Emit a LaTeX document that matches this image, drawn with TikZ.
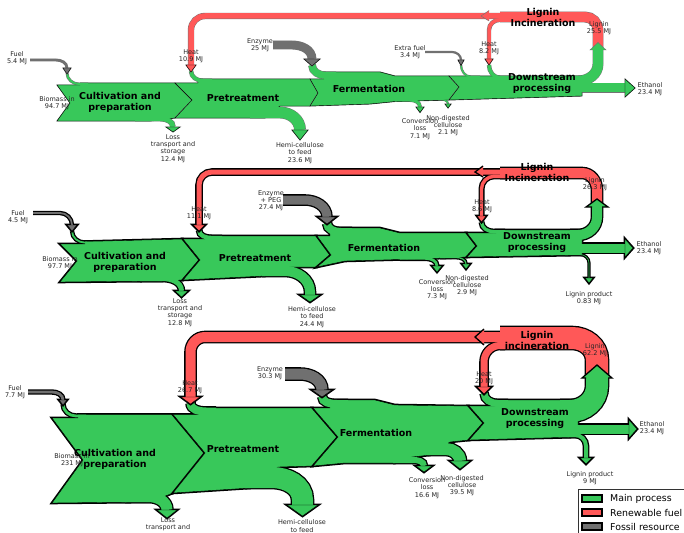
\documentclass[tikz,border=0pt]{standalone}
\usepackage{fontspec}
\setmainfont{DejaVu Sans}
\definecolor{mainc}{RGB}{56,200,90}
\definecolor{renewc}{RGB}{255,88,88}
\definecolor{fossilc}{RGB}{112,112,112}
\tikzset{
  flow/.code={\ifnum\pass=0 \tikzset{draw=\ec,line width={#1+2*\ew}}\else\tikzset{draw=\fc,line width=#1}\fi},
  blob/.code={\ifnum\pass=0 \tikzset{draw=\ec,fill=\ec,line width={2*\ew}}\else\tikzset{fill=\fc}\fi},
  rim/.style={draw=\ec,line width=\ew},
  lbl/.style={font=\fontsize{6.5}{7.2}\selectfont,align=center,inner sep=0pt,text=black!85},
  ttl/.style={font=\fontsize{9.5}{11}\selectfont\bfseries,align=center,inner sep=0pt},
  key/.style={font=\fontsize{9.4}{11}\selectfont,anchor=west,inner sep=0pt}
}
\newcommand\stage[2]{\def\fc{#1}\foreach \pass in {0,1}{#2}}
\begin{document}
\begin{tikzpicture}[x=1pt,y=-1pt]
\useasboundingbox (0,0) rectangle (684,532);
\fill[white] (0,0) rectangle (684,532);

% first case
\def\ec{black!55}\def\ew{0.45pt}
\stage{mainc}{
  \draw[blob] (57,85) -- (80,85) -- (80,83) -- (175,83) -- (192,100) -- (175,118) -- (150,121) -- (57,121) -- (70,103) -- cycle;
  \draw[flow=2] (67,73) to[out=-90,in=180] (79,84) -- (88,84);
  \draw[flow=4.8] (135,118.6) -- (160,118.6) to[out=0,in=90] (173,127);
  \draw[blob] (166,127) -- (173,132) -- (180,127) -- cycle;
}
\stage{mainc}{
  \draw[blob] (175,83) -- (198,83) -- (198,79) -- (310,79) -- (318,93) -- (310,106) -- (280,106) -- (265,118) -- (175,118) -- (192,100) -- cycle;
  \draw[flow=3.6] (191,71) to[out=-90,in=180] (203,80.8) -- (212,80.8);
  \draw[flow=11] (250,112.5) -- (280,112.5) to[out=0,in=90] (300,130);
  \draw[blob] (292,130) -- (300,140) -- (308,130) -- cycle;
}
\stage{mainc}{
  \draw[blob] (310,79) -- (324,79) -- (324,72) -- (380,72) -- (395,76) -- (449,76) -- (459,87) -- (449,100) -- (395,101.5) -- (370,104) -- (310,106) -- (318,93) -- cycle;
  \draw[flow=7] (312,65) to[out=-90,in=180] (326,75.5) -- (336,75.5);
  \draw[flow=3] (395,100) -- (410,100) to[out=0,in=90] (420,107);
  \draw[blob] (416,107) -- (420,112.5) -- (424,107) -- cycle;
  \draw[flow=1.2] (425,99.4) -- (440,99.4) to[out=0,in=90] (448,104);
  \draw[blob] (445,104) -- (448,108) -- (451,104) -- cycle;
}
\stage{mainc}{
  \draw[blob] (449,76) -- (582,76) -- (582,96) -- (449,100) -- (459,87) -- cycle;
  \draw[flow=1.4] (461,65) to[out=-90,in=180] (471,76.7) -- (480,76.7);
  \draw[flow=3.5] (489,65) to[out=-90,in=180] (500,77.75) -- (510,77.75);
  \draw[flow=10] (570,81) -- (578,81) to[out=0,in=-90] (598,64) -- (598,50);
  \draw[flow=9] (575,88) -- (625,88);
  \draw[blob] (625,79) -- (635,88) -- (625,97) -- cycle;
}
\stage{fossilc}{
  \draw[flow=2] (30,60) -- (56,60) to[out=0,in=90] (67,68);
  \draw[blob] (63,68) -- (67,74) -- (71,68) -- cycle;
  \draw[flow=8] (273,45) -- (292,45) to[out=0,in=90] (312,59);
  \draw[blob] (304,59) -- (312,66) -- (320,59) -- cycle;
  \draw[flow=1.3] (425,52) -- (452,52) to[out=0,in=90] (461,60);
  \draw[blob] (458,60) -- (461,65.5) -- (464,60) -- cycle;
}
\stage{renewc}{
  \draw[flow=10] (598,48) -- (598,30) to[out=90,in=0] (585,17) -- (500,17);
  \draw[flow=5.5] (505,16) -- (205,16) to[out=180,in=90] (191,30) -- (191,65);
  \draw[flow=3.5] (505,19.8) -- (500,19.8) to[out=180,in=90] (489,30) -- (489,59);
  \draw[blob] (186,65) -- (191,72) -- (196,65) -- cycle;
  \draw[blob] (485,59) -- (489,65) -- (493,59) -- cycle;
}
\fill[renewc] (489,10.5) -- (481,16) -- (489,21) -- cycle;
\draw[rim] (489,10.5) -- (481,16) -- (489,21);
\fill[mainc] (590,50) -- (598,42.5) -- (606,50) -- cycle;
\draw[rim] (593,50) -- (590,50) -- (598,42.5) -- (606,50) -- (603,50);

% second case
\def\ec{black}\def\ew{1.3pt}
\stage{mainc}{
  \draw[blob] (60,244) -- (85,244) -- (85,241.5) -- (183,239) -- (200,260) -- (183,280) -- (162,281) -- (60,282) -- (77,261) -- cycle;
  \draw[flow=1.8] (72,231) to[out=-90,in=180] (85,242.6) -- (95,242.6);
  \draw[flow=5] (140,278.5) -- (162,278.5) to[out=0,in=90] (181.5,291);
  \draw[blob] (175,291) -- (181.5,297) -- (188,291) -- cycle;
}
\stage{mainc}{
  \draw[blob] (183,239) -- (205,239) -- (205,236) -- (317,236) -- (331,255) -- (317,267) -- (290,267) -- (265,276) -- (183,280) -- (200,260) -- cycle;
  \draw[flow=4.3] (199,230) to[out=-90,in=180] (212,238) -- (222,238);
  \draw[flow=10] (262,271) -- (285,271) to[out=0,in=90] (310,292) -- (310,295);
  \draw[blob] (300,295) -- (310,302) -- (320,295) -- cycle;
}
\stage{mainc}{
  \draw[blob] (317,236) -- (330,236) -- (330,228) -- (380,228) -- (400,233) -- (467,233) -- (477,246) -- (467,257) -- (445,258) -- (400,259.5) -- (345,261) -- (317,267) -- (331,255) -- cycle;
  \draw[flow=8] (327,223) to[out=-90,in=180] (341,232) -- (352,232);
  \draw[flow=2.8] (400,258.3) -- (425,258.3) to[out=0,in=90] (437,266);
  \draw[blob] (432,266) -- (437,272) -- (442,266) -- cycle;
  \draw[flow=1.2] (440,257.5) -- (456,257.5) to[out=0,in=90] (466,264);
  \draw[blob] (462,264) -- (466,269) -- (470,264) -- cycle;
}
\stage{mainc}{
  \draw[blob] (467,233) -- (496,233) -- (496,230) -- (582,230) -- (582,255) -- (467,257) -- (477,246) -- cycle;
  \draw[flow=3.4] (481.5,222) to[out=-90,in=180] (494,231.7) -- (505,231.7);
  \draw[flow=10] (570,235) -- (578,235) to[out=0,in=-90] (597,217) -- (597,207);
  \draw[flow=9] (575,248) -- (625,248);
  \draw[blob] (625,239) -- (633,248) -- (625,257) -- cycle;
  \draw[flow=0.6] (565,254.5) -- (580,254.5) to[out=0,in=90] (589,263) -- (589,278);
  \draw[blob] (585,278) -- (589,283) -- (593,278) -- cycle;
}
\stage{fossilc}{
  \draw[flow=1.8] (33,213) -- (60,213) to[out=0,in=90] (72,225);
  \draw[blob] (67,225) -- (72,231) -- (77,225) -- cycle;
  \draw[flow=9] (283,200) -- (305,200) to[out=0,in=90] (327,217);
  \draw[blob] (318,217) -- (327,224) -- (336,217) -- cycle;
}
\stage{renewc}{
  \draw[flow=10] (597,205) -- (597,190) to[out=90,in=0] (582,173) -- (500,173);
  \draw[flow=5] (505,172) -- (212,172) to[out=180,in=90] (199,185) -- (199,225);
  \draw[flow=3.4] (505,176.3) -- (494,176.3) to[out=180,in=90] (481.5,189) -- (481.5,216);
  \draw[blob] (193,225) -- (199,231) -- (205,225) -- cycle;
  \draw[blob] (477,216) -- (481.5,222) -- (486,216) -- cycle;
}
\fill[renewc] (483,166) -- (475,172) -- (483,177) -- cycle;
\draw[rim] (483,166) -- (475,172) -- (483,177);
\fill[mainc] (586,207) -- (597,199) -- (608,207) -- cycle;
\draw[rim] (592,207) -- (586,207) -- (597,199) -- (608,207) -- (602,207);

% third case
\stage{mainc}{
  \draw[blob] (52,418) -- (78,418) -- (78,414.5) -- (173,414.5) -- (205,453) -- (173,493) -- (150,502) -- (52,503) -- (83,460) -- cycle;
  \draw[flow=2.8] (63,404) to[out=-90,in=180] (76,416) -- (86,416);
  \draw[flow=11] (125,496.5) -- (148,496.5) to[out=0,in=90] (167,510);
  \draw[blob] (157,510) -- (167,518) -- (177,510) -- cycle;
}
\stage{mainc}{
  \draw[blob] (173,414.5) -- (200,414.5) -- (200,408) -- (313,408) -- (338,437) -- (313,466) -- (278,467) -- (250,488) -- (173,493) -- (205,453) -- cycle;
  \draw[flow=8] (190.5,403) to[out=-90,in=180] (206,411.5) -- (216,411.5);
  \draw[flow=21] (245,477.5) -- (272,477.5) to[out=0,in=90] (302.5,500) -- (302.5,505);
  \draw[blob] (287,505) -- (302.5,516) -- (318,505) -- cycle;
}
\stage{mainc}{
  \draw[blob] (313,408) -- (330,408) -- (330,400) -- (375,400) -- (395,405) -- (469,406) -- (484,423) -- (469,440) -- (450,442) -- (430,455) -- (412,457) -- (395,463) -- (345,463) -- (313,466) -- (338,437) -- cycle;
  \draw[flow=8] (322,396) to[out=-90,in=180] (337,404) -- (348,404);
  \draw[flow=6] (393,460) -- (413,460) to[out=0,in=90] (424,466);
  \draw[blob] (416,466) -- (424,472) -- (432,466) -- cycle;
  \draw[flow=12] (428,449) -- (446,449) to[out=0,in=90] (460,461);
  \draw[blob] (450,461) -- (460,469) -- (470,461) -- cycle;
}
\stage{mainc}{
  \draw[blob] (469,406) -- (495,406) -- (495,400) -- (578,400) -- (578,437) -- (469,440) -- (484,423) -- cycle;
  \draw[flow=7] (484,393) to[out=-90,in=180] (498,403.5) -- (508,403.5);
  \draw[flow=22] (560,411) -- (570,411) to[out=0,in=-90] (597,386) -- (597,378);
  \draw[flow=9] (572,429) -- (629,429);
  \draw[blob] (629,420) -- (637,429) -- (629,438) -- cycle;
  \draw[flow=4] (560,435) -- (575,435) to[out=0,in=90] (586,446) -- (586,458);
  \draw[blob] (580,458) -- (586,464) -- (592,458) -- cycle;
}
\stage{fossilc}{
  \draw[flow=2.8] (28,392) -- (52,392) to[out=0,in=90] (63,400);
  \draw[blob] (59,400) -- (63,405) -- (67,400) -- cycle;
  \draw[flow=11] (285,374) -- (300,374) to[out=0,in=90] (322,390);
  \draw[blob] (312,390) -- (322,397) -- (332,390) -- cycle;
}
\stage{renewc}{
  \draw[flow=22] (597,376) -- (597,360) to[out=90,in=0] (572,338) -- (500,338);
  \draw[flow=10] (505,337) -- (205,337) to[out=180,in=90] (190.5,352) -- (190.5,397);
  \draw[flow=7] (505,345.5) -- (500,345.5) to[out=180,in=90] (484,362) -- (484,387);
  \draw[blob] (181,397) -- (190.5,404) -- (200,397) -- cycle;
  \draw[blob] (477,387) -- (484,394) -- (491,387) -- cycle;
}
\fill[renewc] (484,329) -- (475,337) -- (484,345) -- cycle;
\draw[rim] (484,329) -- (475,337) -- (484,345);
\fill[mainc] (582,378) -- (597,365) -- (612,378) -- cycle;
\draw[rim] (586,378) -- (582,378) -- (597,365) -- (612,378) -- (608,378);

% labels
\node[lbl] (fuelA) at (17,58.5) {Fuel\\5.4 MJ};
\node[lbl] (bioA) at (57,103) {Biomass in\\94.7 MJ};
\node[lbl] (lossA) at (173,148.5) {Loss\\transport and\\storage\\12.4 MJ};
\node[lbl] (heatA) at (191,56) {Heat\\10.9 MJ};
\node[lbl] (enzA) at (260,45) {Enzyme\\25 MJ};
\node[lbl] (hemiA) at (300,153) {Hemi-cellulose\\to feed\\23.6 MJ};
\node[lbl] (convA) at (420,129) {Conversion\\loss\\7.1 MJ};
\node[lbl] (nondA) at (448,125.5) {Non-digested\\cellulose\\2.1 MJ};
\node[lbl] (xfuelA) at (410,52) {Extra fuel\\3.4 MJ};
\node[lbl] (heatdA) at (489,48.5) {Heat\\8.2 MJ};
\node[lbl] (lignA) at (599,28) {Lignin\\25.5 MJ};
\node[lbl] (ethA) at (650,89.5) {Ethanol\\23.4 MJ};
\node[ttl] (cultA) at (120,102.5) {Cultivation and\\preparation};
\node[ttl] (pretA) at (243,98) {Pretreatment};
\node[ttl] (fermA) at (369,89) {Fermentation};
\node[ttl] (downA) at (542,84) {Downstream\\processing};
\node[ttl] (incA) at (543,17.5) {Lignin\\Incineration};

\node[lbl] (fuelB) at (18,217) {Fuel\\4.5 MJ};
\node[lbl] (bioB) at (60,263) {Biomass in\\97.7 MJ};
\node[lbl] (lossB) at (180,312.5) {Loss\\transport and\\storage\\12.8 MJ};
\node[lbl] (heatB) at (199,213.5) {Heat\\11.1 MJ};
\node[lbl] (enzB) at (271,200.5) {Enzyme\\+ PEG\\27.4 MJ};
\node[lbl] (hemiB) at (312,317) {Hemi-cellulose\\to feed\\24.4 MJ};
\node[lbl] (convB) at (437,289.5) {Conversion\\loss\\7.3 MJ};
\node[lbl] (nondB) at (467,285.5) {Non-digested\\cellulose\\2.9 MJ};
\node[lbl] (heatdB) at (482,206.5) {Heat\\8.6 MJ};
\node[lbl] (lignB) at (595,184) {Lignin\\26.3 MJ};
\node[lbl] (ethB) at (649,248.5) {Ethanol\\23.4 MJ};
\node[lbl] (prodB) at (589,298.5) {Lignin product\\0.83 MJ};
\node[ttl] (cultB) at (125,262.5) {Cultivation and\\preparation};
\node[ttl] (pretB) at (255,258) {Pretreatment};
\node[ttl] (fermB) at (384,248) {Fermentation};
\node[ttl] (downB) at (537,243) {Downstream\\processing};
\node[ttl] (incB) at (537,172.5) {Lignin\\Incineration};

\node[lbl] (fuelC) at (15,392) {Fuel\\7.7 MJ};
\node[lbl] (bioC) at (72,460.5) {Biomass in\\231 MJ};
\node[lbl] (lossC) at (168,524.5) {Loss\\transport and};
\node[lbl] (heatC) at (190,387) {Heat\\26.7 MJ};
\node[lbl] (enzC) at (270,373.5) {Enzyme\\30.3 MJ};
\node[lbl] (hemiC) at (302,526) {Hemi-cellulose\\to feed};
\node[lbl] (convC) at (427,488) {Conversion\\loss\\16.6 MJ};
\node[lbl] (nondC) at (462,485.5) {Non-digested\\cellulose\\39.5 MJ};
\node[lbl] (heatdC) at (484,378) {Heat\\20 MJ};
\node[lbl] (lignC) at (595,350.5) {Lignin\\62.2 MJ};
\node[lbl] (ethC) at (652,428) {Ethanol\\23.4 MJ};
\node[lbl] (prodC) at (590,478.5) {Lignin product\\9 MJ};
\node[ttl] (cultC) at (115,459) {Cultivation and\\preparation};
\node[ttl] (pretC) at (243,449) {Pretreatment};
\node[ttl] (fermC) at (376,433) {Fermentation};
\node[ttl] (downC) at (535,418.5) {Downstream\\processing};
\node[ttl] (incC) at (537,340) {Lignin\\incineration};

% legend
\draw[black!80,line width=0.8pt] (578,489) rectangle (700,545);
\draw[fill=mainc,line width=1.1pt] (582,495) rectangle (602,502);
\node[key] (keyMain) at (610,498.5) {Main process};
\draw[fill=renewc,line width=1.1pt] (582,509) rectangle (602,516);
\node[key] (keyRenew) at (610,512.5) {Renewable fuel};
\draw[fill=fossilc,line width=1.1pt] (582,523) rectangle (602,530);
\node[key] (keyFossil) at (610,526.5) {Fossil resource};
\end{tikzpicture}
\end{document}
